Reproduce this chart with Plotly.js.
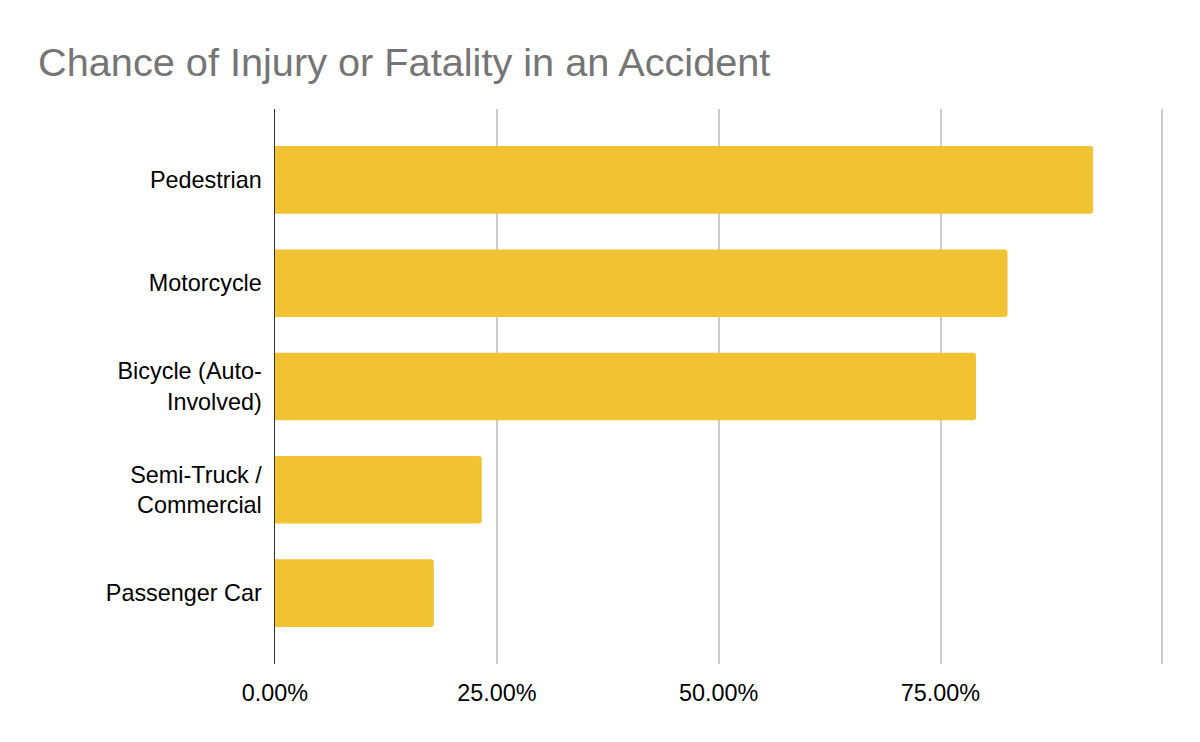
<!DOCTYPE html>
<html>
<head>
<meta charset="utf-8">
<script src="https://cdn.plot.ly/plotly-3.0.1.min.js"></script>
<style>html,body{margin:0;padding:0;background:#fff;}#chart{width:1200px;height:742px;}</style>
</head>
<body>
<div id="chart"></div>
<script>
const categories = ["Pedestrian", "Motorcycle", "Bicycle (Auto-<br>Involved)", "Semi-Truck /<br>Commercial", "Passenger Car"];
const values = [0.922, 0.8255, 0.790, 0.233, 0.179];
const xTickVals = [0, 0.25, 0.5, 0.75, 1];
const xTickText = ["0.00%", "25.00%", "50.00%", "75.00%", ""];

const trace = {
  type: "bar",
  orientation: "h",
  y: categories,
  x: values,
  width: 0.654,
  marker: {color: "#f1c232", cornerradius: 3},
  hoverinfo: "none"
};

const layout = {
  width: 1200,
  height: 742,
  paper_bgcolor: "#ffffff",
  plot_bgcolor: "#ffffff",
  font: {family: "Liberation Sans, Arial, sans-serif", size: 23.4, color: "#000000"},
  margin: {l: 274.7, r: 34.6, t: 109, b: 78, pad: 0},
  showlegend: false,
  title: {
    text: "Chance of Injury or Fatality in an Accident",
    font: {family: "Liberation Sans, Arial, sans-serif", size: 39.7, color: "#757575"},
    xref: "container", yref: "container",
    x: 38 / 1200, xanchor: "left",
    y: 1 - 62 / 742, yanchor: "middle"
  },
  xaxis: {
    range: [0, 1.003],
    tickvals: xTickVals,
    ticktext: xTickText,
    showgrid: true,
    gridcolor: "#cccccc",
    gridwidth: 2,
    zeroline: false,
    showline: false,
    ticks: "outside",
    ticklen: 8,
    tickcolor: "rgba(0,0,0,0)",
    tickfont: {size: 23.4, color: "#000000"},
    fixedrange: true
  },
  yaxis: {
    type: "category",
    range: [4.686, -0.686],
    showgrid: false,
    zeroline: false,
    showline: true,
    linecolor: "#333333",
    linewidth: 1.5,
    ticks: "outside",
    ticklen: 7,
    tickcolor: "rgba(0,0,0,0)",
    tickfont: {size: 23.4, color: "#000000"},
    fixedrange: true
  }
};

Plotly.newPlot("chart", [trace], layout, {displayModeBar: false, staticPlot: true});
</script>
</body>
</html>
